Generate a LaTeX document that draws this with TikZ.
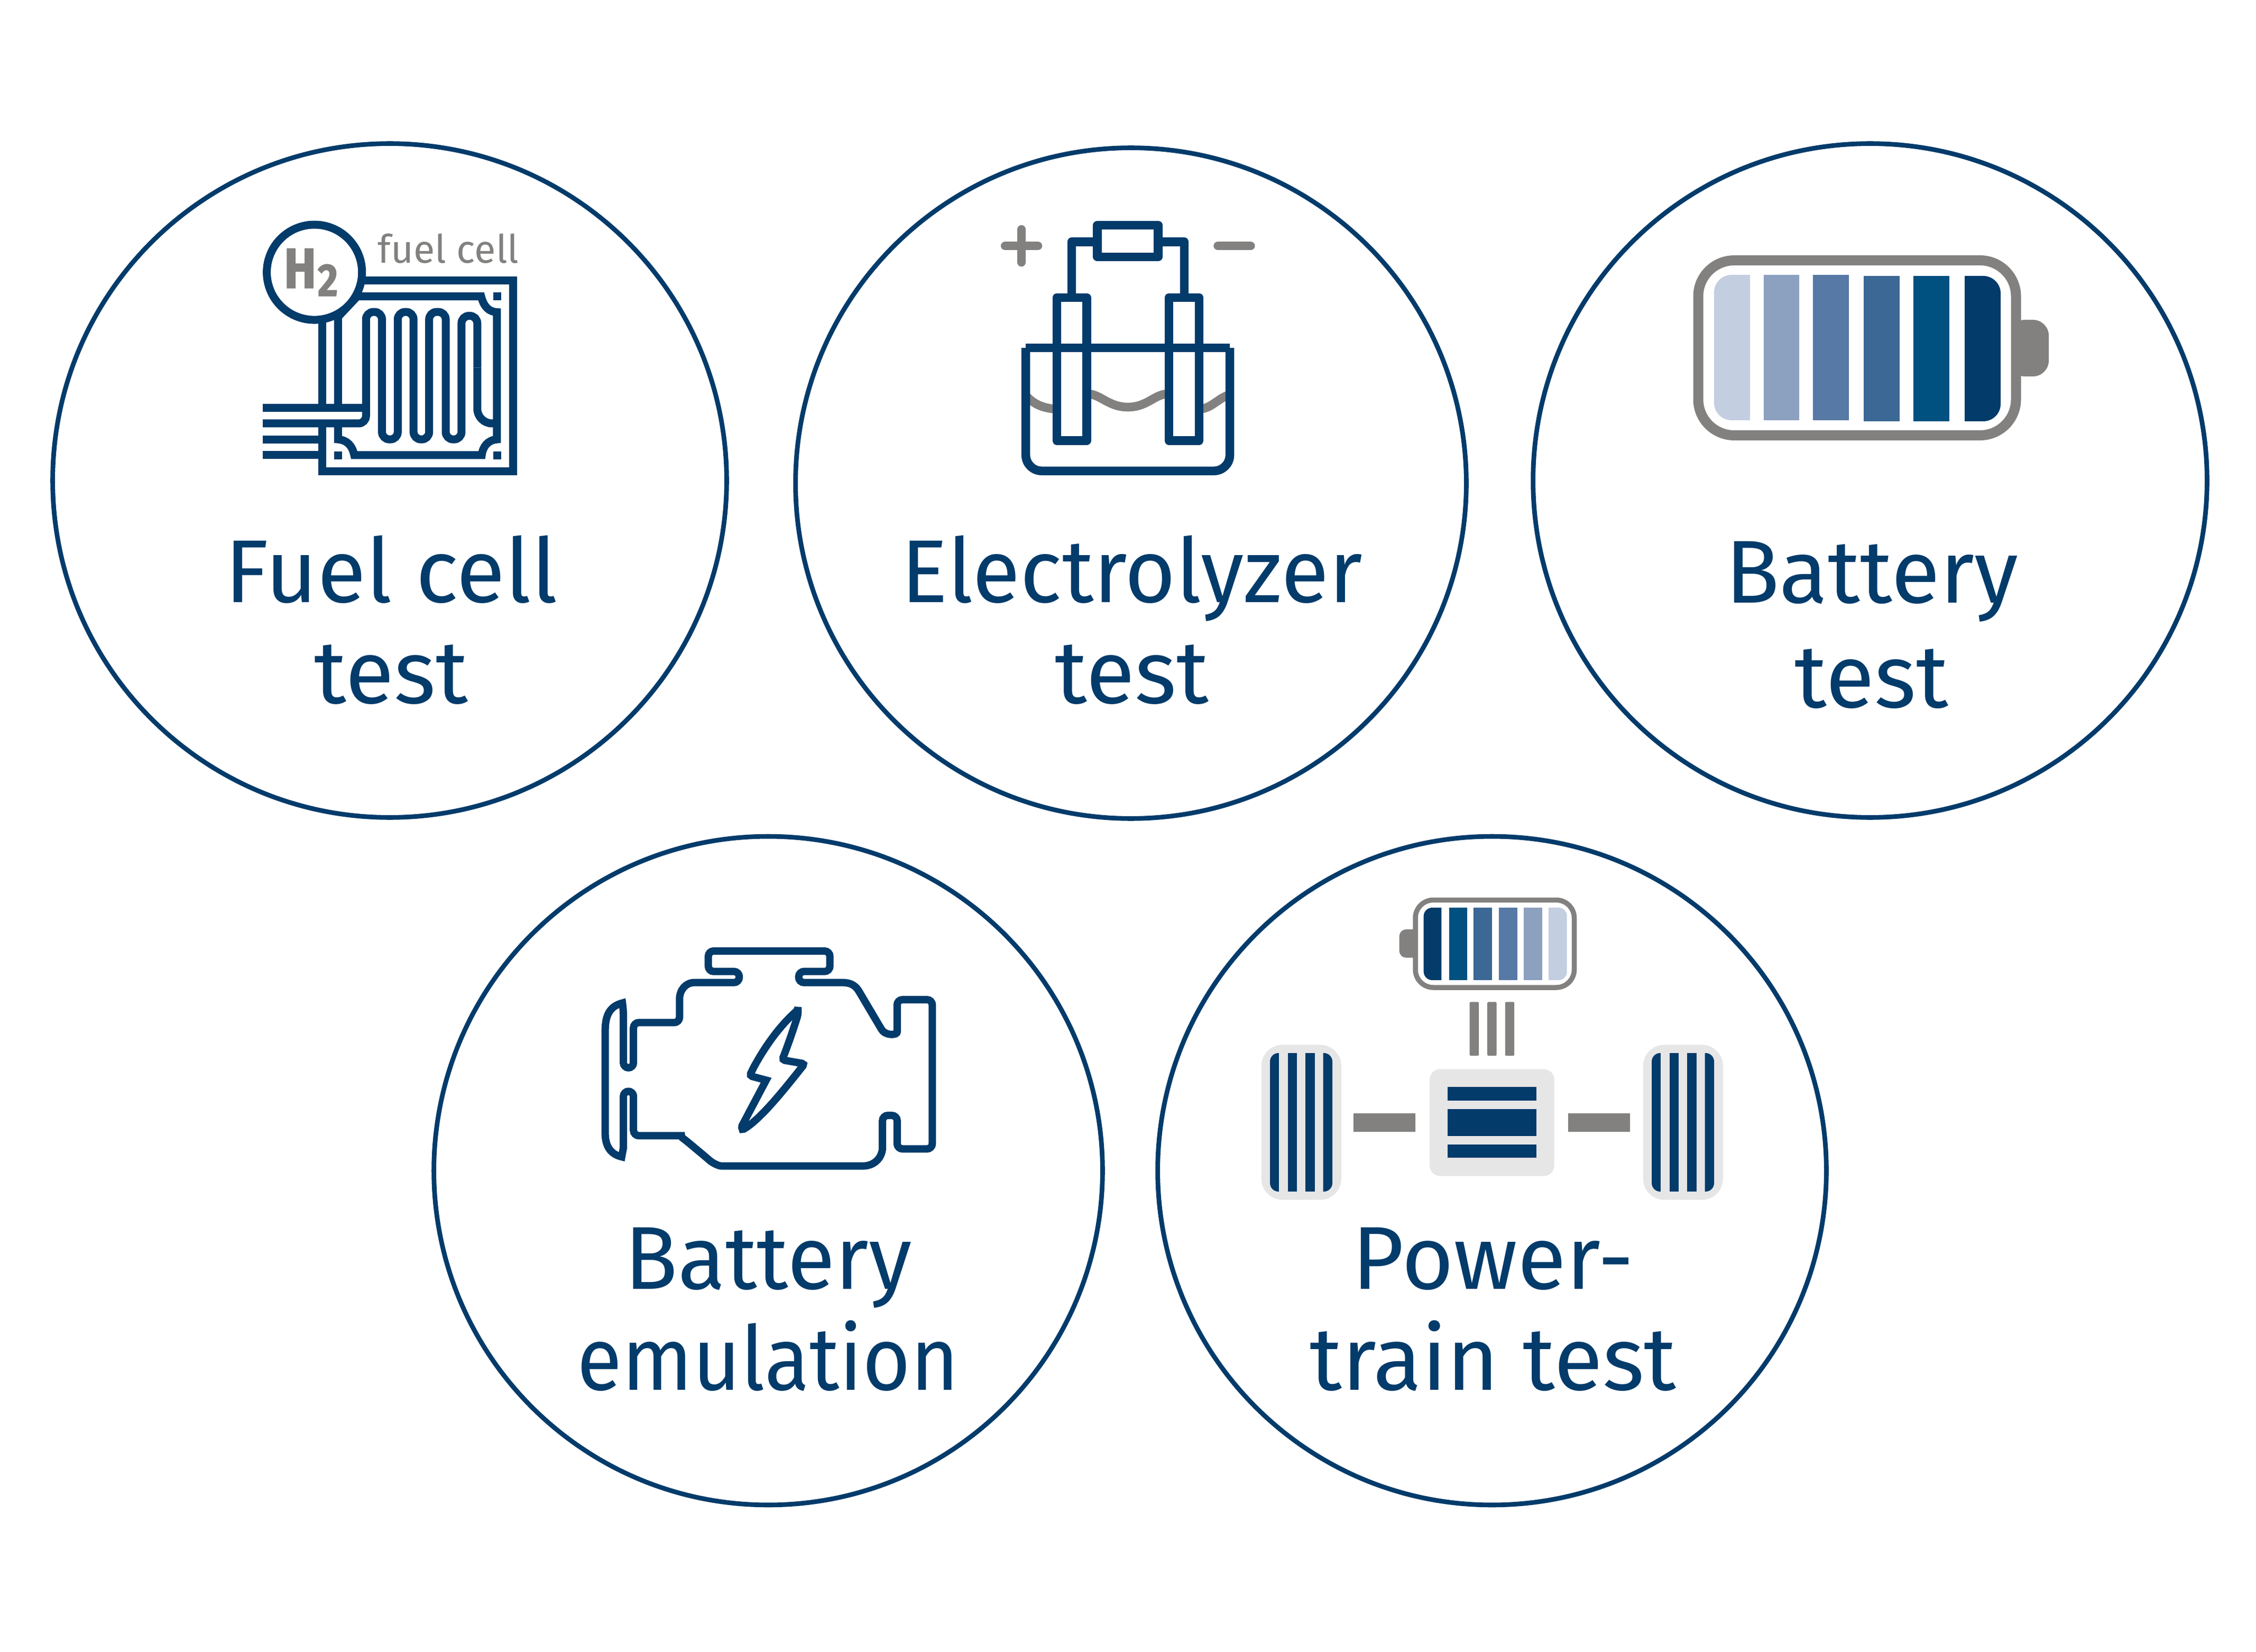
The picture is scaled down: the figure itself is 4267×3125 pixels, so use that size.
\documentclass[tikz,border=0pt]{standalone}
\usepackage{fontspec}
\setmainfont{Fira Sans}
\usetikzlibrary{positioning}
\definecolor{navy}{HTML}{033B6B}
\definecolor{stone}{HTML}{82817F}
\definecolor{pale}{HTML}{E6E6E6}
\definecolor{barA}{HTML}{C3CEE0}
\definecolor{barB}{HTML}{8CA0C0}
\definecolor{barC}{HTML}{5779A5}
\definecolor{barD}{HTML}{3B6894}
\definecolor{barE}{HTML}{005080}
\tikzset{
  ring/.style={circle,draw=navy,line width=0.088cm,inner sep=0pt,minimum size=#1},
  captext/.style={text=navy,font=\fontsize{48}{54.3}\selectfont,align=center,inner sep=0pt,anchor=base},
  fuelline/.style={draw=navy,line width=0.15cm},
  cellline/.style={draw=navy,line width=0.165cm,line join=round},
  waveline/.style={draw=stone,line width=0.165cm},
  signline/.style={draw=stone,line width=0.165cm,line cap=round},
  engineline/.style={draw=navy,line width=0.14cm}
}
\begin{document}
\begin{tikzpicture}[x=0.01cm,y=-0.01cm]
    \useasboundingbox (0,0) rectangle (4267,3125);
    % the five rings
    \node[ring=12.74cm] (fuel) at (737,909) {};
    \node[ring=12.68cm] (cell) at (2139,914) {};
    \node[ring=12.74cm] (batt) at (3537,909) {};
    \node[ring=12.64cm] (emul) at (1453,2214.5) {};
    \node[ring=12.64cm] (power) at (2822,2214.5) {};
    \node[captext] (fuelcap) at (740,1330) {Fuel cell\\test};
    \node[captext] (cellcap) at (2141,1330) {{\addfontfeature{FakeStretch=0.98}Electrolyzer}\\test};
    \node[captext] (battcap) at (3540,1338) {Battery\\[2pt]test};
    \node[captext] (emulcap) at (1453,2629) {{\addfontfeature{FakeStretch=0.98}Battery}\\{\addfontfeature{FakeStretch=0.925}emulation}};
    \node[captext] (powercap) at (2824,2629) {Power-\\train test};
    % fuel cell icon
    \begin{scope}[shift={(450,380)},xscale=0.3827,yscale=0.3508]
        \draw[fuelline] (600,430) -- (1360,430) -- (1360,1457) -- (418,1457) -- (418,1200);
        \draw[fuelline] (418,640) -- (418,1115);
        \draw[fuelline] (495,1115) -- (495,625) -- (590,515) -- (1202,515)
            .. controls (1215,570) and (1240,598) .. (1280,600) -- (1280,1286)
            .. controls (1235,1290) and (1210,1325) .. (1205,1371) -- (575,1371)
            .. controls (565,1320) and (540,1290) .. (495,1286) -- (495,1200);
        \draw[fuelline] (123,1115) -- (633,1115);
        \draw[fuelline] (123,1286) -- (418,1286);
        \draw[fuelline] (123,1371) -- (418,1371);
        \draw[fuelline,rounded corners=0.14cm] (123,1200) -- (633,1200) -- (633,599) -- (712,599)
            -- (712,1286) -- (790,1286) -- (790,599) -- (868,599) -- (868,1286) -- (945,1286)
            -- (945,599) -- (1027,599) -- (1027,1286) -- (1105,1286) -- (1105,620) -- (1183,620)
            -- (1183,900);
        \draw[fuelline,rounded corners=0.28cm] (1183,900) -- (1183,1200) -- (1280,1200);
        \fill[navy] (1262,493) rectangle (1300,537);
        \fill[navy] (1262,1350) rectangle (1300,1393);
        \fill[navy] (476,1350) rectangle (516,1393);
        \node[circle,draw=navy,fill=white,line width=0.15cm,inner sep=0pt,minimum size=1.8cm] (hring) at (378,385) {};
        \node[anchor=base west,inner sep=0pt,text=stone,font=\bfseries\addfontfeature{FakeBold=1.5,FakeStretch=0.85}\fontsize{30.5}{32}\selectfont] (hlabel) at (226,470)
            {H\kern0.03cm\lower0.15cm\hbox{\fontsize{24.7}{26}\selectfont 2}};
        \node[anchor=base west,inner sep=0pt,text=stone,font=\fontsize{21}{23}\selectfont] (fueltag) at (690,335) {fuel cell};
    \end{scope}
    % electrolyzer icon
    \begin{scope}[shift={(1850,380)},scale=0.3508]
        \draw[waveline] (257,1050) .. controls (300,1095) and (345,1118) .. (424,1123);
        \draw[waveline] (585,1040) .. controls (660,1040) and (700,1112) .. (807,1112)
            .. controls (915,1112) and (950,1040) .. (1029,1040);
        \draw[waveline] (1191,1123) .. controls (1260,1120) and (1290,1065) .. (1357,1045);
        \draw[cellline,rounded corners=0.3cm] (257,793) -- (257,1456) -- (1357,1456) -- (1357,793);
        \draw[cellline] (257,793) -- (1357,793);
        \draw[cellline] (424,521) rectangle (585,1293);
        \draw[cellline] (1029,521) rectangle (1191,1293);
        \draw[cellline] (504,521) -- (504,221) -- (643,221);
        \draw[cellline] (1112,521) -- (1112,221) -- (971,221);
        \draw[cellline] (643,131) rectangle (971,302);
        \draw[signline] (146,243) -- (322,243);
        \draw[signline] (234,154) -- (234,331);
        \draw[signline] (1293,243) -- (1469,243);
    \end{scope}
    % big battery
    \fill[stone,rounded corners=0.3cm] (3800,605) -- (3875,605) -- (3875,712) -- (3800,712) -- cycle;
    \draw[stone,fill=white,line width=0.19cm,rounded corners=0.68cm] (3212,492.5) rectangle (3813,823.5);
    \fill[barA] (3310,520) [rounded corners=0.33cm] -- (3242,520) -- (3242,795) [sharp corners] -- (3310,795) -- cycle;
    \foreach \xa/\xb/\ya/\yb/\barcol in {3335.5/3403.4/520/795/barB,3429.3/3497.2/520/795/barC,3525/3593.4/522/797/barD,3618.8/3687.2/522/797/barE}
        \fill[\barcol] (\xa,\ya) rectangle (\xb,\yb);
    \fill[navy] (3716,522) [rounded corners=0.33cm] -- (3784,522) -- (3784,797) [sharp corners] -- (3716,797) -- cycle;
    % engine icon
    \begin{scope}[shift={(1100,1760)},xscale=0.4464,yscale=0.3333]
        \draw[engineline,rounded corners=0.1cm] (800,117) -- (537,117) -- (537,233) -- (668,233) -- (668,296)
            -- (500,296) .. controls (440,296) and (415,340) .. (415,420) -- (415,523) -- (220,523) -- (220,780)
            -- (177,780) -- (177,450) [sharp corners] -- (173,412) .. controls (120,430) and (100,480) .. (100,570)
            -- (100,1150) .. controls (100,1220) and (120,1270) .. (170,1285) -- (177,1235) [rounded corners=0.1cm]
            -- (177,913) -- (220,913) -- (220,1165) -- (400,1165) .. controls (420,1165) and (430,1180) .. (440,1190)
            -- (525,1285) .. controls (555,1320) and (580,1337) .. (615,1337) -- (1170,1337)
            .. controls (1240,1337) and (1275,1290) .. (1275,1200) -- (1275,1050) -- (1337,1050) -- (1337,1240)
            -- (1486,1240) -- (1486,393) -- (1337,393) -- (1337,545) [sharp corners] .. controls (1337,585) and (1328,592) .. (1308,590)
            .. controls (1290,587) and (1278,578) .. (1270,560) -- (1175,345) .. controls (1160,312) and (1140,296) .. (1105,296)
            [rounded corners=0.1cm] -- (920,296) -- (920,233) -- (1052,233) -- (1052,117) -- cycle;
        \draw[engineline,rounded corners=0.05cm] (917,450) -- (917,478) .. controls (895,570) and (880,630) .. (850,735)
            -- (945,757) .. controls (860,900) and (760,1070) .. (678,1135) [sharp corners] -- (680,1108) -- (782,850)
            [rounded corners=0.05cm] -- (712,825) -- (728,780) .. controls (790,630) and (850,530) .. (917,450) [sharp corners] -- cycle;
    \end{scope}
    % powertrain icon
    \fill[stone,rounded corners=0.13cm] (2690,1758) -- (2646.6,1758) -- (2646.6,1811.6) -- (2690,1811.6) -- cycle;
    \draw[stone,fill=white,line width=0.095cm,rounded corners=0.34cm] (2677,1702.5) rectangle (2977.5,1868);
    \fill[navy] (2726.3,1717) [rounded corners=0.16cm] -- (2692.7,1717) -- (2692.7,1854) [sharp corners] -- (2726.3,1854) -- cycle;
    \foreach \xa/\xb/\barcol in {2740.7/2774.9/barE,2786.9/2821.6/barD,2835.4/2870.2/barC,2882.2/2917/barB}
        \fill[\barcol] (\xa,1717) rectangle (\xb,1854);
    \fill[barA] (2929,1717) [rounded corners=0.16cm] -- (2963.7,1717) -- (2963.7,1854) [sharp corners] -- (2929,1854) -- cycle;
    \foreach \xa/\xb in {2779.7/2797,2813.2/2830.6,2846.8/2864.2}
        \fill[stone,rounded corners=0.02cm] (\xa,1895.4) rectangle (\xb,1997);
    \fill[pale,rounded corners=0.2cm] (2704,2022.3) rectangle (2939.7,2224.7);
    \foreach \ya/\yb in {2055.9/2082.4,2097.8/2149.2,2165.4/2190.3}
        \fill[navy] (2738.3,\ya) rectangle (2906.2,\yb);
    \fill[stone] (2559.6,2106) rectangle (2677,2140.5);
    \fill[stone] (2966,2106) rectangle (3083,2140.5);
    \foreach \tireshift in {0,722}
    {
        \begin{scope}[xshift=\tireshift*0.01cm]
            \fill[pale,rounded corners=0.4cm] (2385.8,1976.4) rectangle (2536.9,2269.7);
            \fill[navy] (2418.8,1992) [rounded corners=0.16cm] -- (2402,1992) -- (2402,2254) [sharp corners] -- (2418.8,2254) -- cycle;
            \fill[navy] (2435.5,1992) rectangle (2453,2254);
            \fill[navy] (2469,1992) rectangle (2486.5,2254);
            \fill[navy] (2502.7,1992) [rounded corners=0.16cm] -- (2520,1992) -- (2520,2254) [sharp corners] -- (2502.7,2254) -- cycle;
        \end{scope}
    }
\end{tikzpicture}
\end{document}
